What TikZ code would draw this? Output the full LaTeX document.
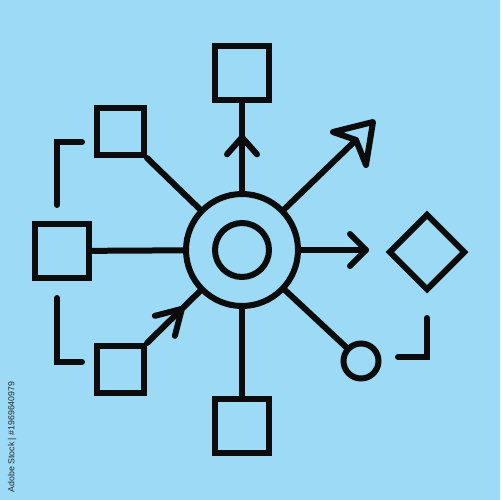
\documentclass[tikz,border=0pt]{standalone}
\usepackage{fontspec}
\setsansfont{Liberation Sans}
\usetikzlibrary{shapes.geometric}
\definecolor{bgcol}{RGB}{156,218,246}
\definecolor{ink}{RGB}{12,12,12}
\definecolor{marktext}{RGB}{40,40,40}
\begin{document}
\begin{tikzpicture}[x=0.02cm,y=-0.02cm,
  stroke/.style={draw=ink,line width=0.12cm},
  bigbox/.style={stroke,rectangle,inner sep=0pt,minimum size=1.08cm},
  smallbox/.style={stroke,rectangle,inner sep=0pt,minimum size=0.94cm},
  link/.style={stroke,line cap=round,line join=round},
  chev/.style={stroke,line cap=round,line join=round},
  bracket/.style={stroke,line cap=round,line join=miter}]
\fill[bgcol] (0,0) rectangle (500,500);
\useasboundingbox (0,0) rectangle (500,500);
% nodes
\node[stroke,circle,inner sep=0pt,minimum size=2.24cm] (hub) at (242,250) {};
\node[stroke,circle,inner sep=0pt,minimum size=1.08cm] (core) at (242,250) {};
\node[bigbox] (top) at (242,73) {};
\node[smallbox] (tl) at (120.5,131.5) {};
\node[bigbox,minimum size=1.1cm] (left) at (62,251) {};
\node[smallbox] (bl) at (120.5,369.5) {};
\node[bigbox] (bottom) at (242,426) {};
\node[stroke,diamond,inner sep=0pt,minimum size=1.54cm] (dia) at (427,252) {};
\node[stroke,circle,inner sep=0pt,minimum size=0.70cm] (sc) at (361,361) {};
\coordinate (rend) at (366,250);
\coordinate (trend) at (373,122);
% connectors
\draw[link] (hub.north) -- coordinate[pos=0.61] (tt) (top.south);
\draw[chev] ([shift={(-15,17)}]tt) -- (tt) -- ([shift={(15,17)}]tt);
\draw[link] (hub.east) -- (rend);
\draw[chev] ([shift={(-16,-16)}]rend) -- (rend) -- ([shift={(-16,16)}]rend);
\draw[link] (hub.44) -- (356,140);
\draw[chev] (trend) -- ++(-40,10) -- (356,140) -- (366,165) -- cycle;
\draw[link] (tl.south east) -- (hub);
\draw[link] (left) -- (hub);
\draw[link] (bl.north east) -- coordinate[pos=0.66] (bt) (hub);
\draw[chev] ([shift={(-27,7)}]bt) -- (bt) -- ([shift={(-7,27)}]bt);
\draw[link] (hub.south) -- (bottom.north);
\draw[link] (hub) -- (sc);
% brackets
\draw[bracket] (57,205) -- (57,142) -- (82,142);
\draw[bracket] (57,298) -- (57,362) -- (82,362);
\draw[bracket] (427,318) -- (427,357) -- (398,357);
% stock id
\node[rotate=90,text=marktext,font=\sffamily\fontsize{5}{6}\selectfont,inner sep=0pt] (sid) at (12,437) {Adobe Stock | \#1969640979};
\end{tikzpicture}
\end{document}
